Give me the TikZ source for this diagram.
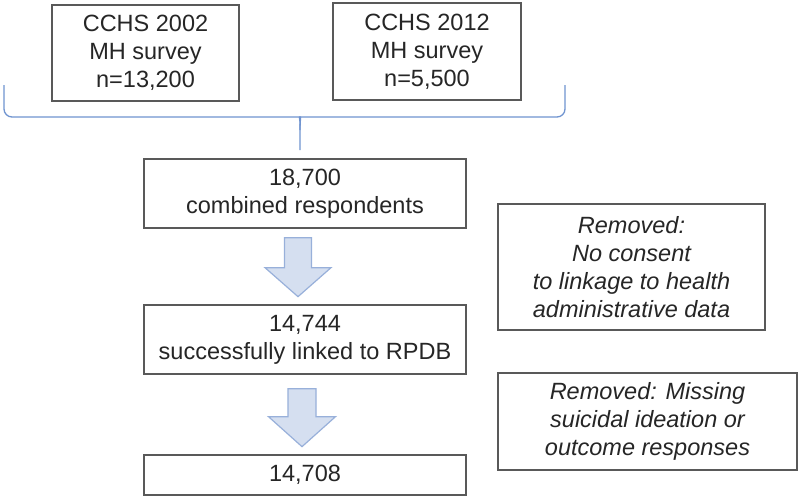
\documentclass[tikz,border=0pt]{standalone}
\usepackage{fontspec}
\setmainfont{Liberation Sans}
\usetikzlibrary{calc}
\definecolor{boxline}{HTML}{595959}
\definecolor{txt}{HTML}{262626}
\definecolor{arrfill}{HTML}{D5DFF0}
\definecolor{arrline}{HTML}{98B0DA}
\definecolor{bracecol}{HTML}{7094D0}
\tikzset{
  box/.style={draw=boxline, line width=1.3pt, rectangle, align=center, text=txt, inner sep=0pt,
    font=\fontsize{23.5pt}{28pt}\selectfont},
  note/.style={box, font=\fontsize{23.5pt}{28pt}\selectfont\itshape},
  blockarrow/.style={fill=arrfill, draw=arrline, line width=1.2pt, line join=miter},
  bracestyle/.style={draw=bracecol, line width=1.3pt, rounded corners=8pt}
}
\begin{document}
\begin{tikzpicture}[x=1pt,y=-1pt]
\useasboundingbox[fill=white] (0,0) rectangle (800,499);
\node[box, minimum width=187pt, minimum height=96pt] (a) at (145.5,53) {CCHS 2002\\MH survey\\n=13,200};
\node[box, minimum width=188pt, minimum height=97pt] (b) at (427,51.5) {CCHS 2012\\MH survey\\n=5,500};
\node[box, minimum width=322pt, minimum height=69pt] (c) at (305,193.5) {18,700\\combined respondents};
\node[box, minimum width=322pt, minimum height=69pt] (d) at (305,339.5) {14,744\\successfully linked to RPDB};
\node[box, minimum width=322pt, minimum height=40pt] (e) at (305,475) {14,708};
\node[note, minimum width=267pt, minimum height=126pt] (f) at (631.5,267) {Removed:\\No consent\\to linkage to health\\administrative data};
\node[note, minimum width=299pt, minimum height=97pt] (g) at (647.5,421.5) {Removed: Missing\\suicidal ideation or\\outcome responses};
% brace
\coordinate (bl) at (4,85);
\coordinate (br) at (565,85);
\coordinate (bt) at (300,150);
\draw[bracestyle] (bl) -- (4,117) -- (292,117) .. controls (299,117) and (300,121) .. (300,130) -- (bt);
\draw[bracestyle] (br) -- (565,117) -- (308,117) .. controls (301,117) and (300,121) .. (300,130);
% block arrows
\coordinate (a1) at ($(c.south)+(-7,9)$);
\draw[blockarrow] ($(a1)+(-13.5,0)$) -- ($(a1)+(13.5,0)$) -- ($(a1)+(13.5,30)$) -- ($(a1)+(33,30)$)
  -- ($(a1)+(0,59)$) -- ($(a1)+(-33,30)$) -- ($(a1)+(-13.5,30)$) -- cycle;
\coordinate (a2) at ($(d.south)+(-3,14)$);
\draw[blockarrow] ($(a2)+(-14,0)$) -- ($(a2)+(14,0)$) -- ($(a2)+(14,28)$) -- ($(a2)+(33.5,28)$)
  -- ($(a2)+(0,58)$) -- ($(a2)+(-33.5,28)$) -- ($(a2)+(-14,28)$) -- cycle;
\end{tikzpicture}
\end{document}
